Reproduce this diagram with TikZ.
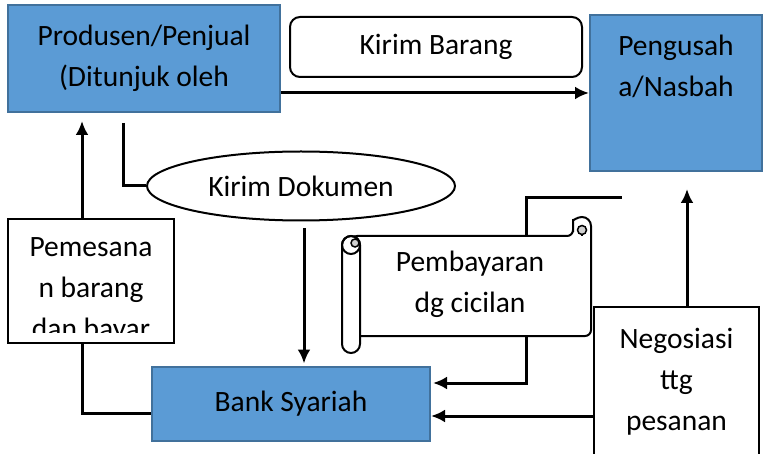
\documentclass[tikz,border=0pt]{standalone}
\usepackage{fontspec}
\setmainfont{Carlito}
\usetikzlibrary{shapes.geometric,arrows.meta}
\definecolor{kotakbiru}{HTML}{5B9BD5}
\definecolor{garisbiru}{HTML}{41719C}
\definecolor{gulung}{HTML}{D0D0D0}
\tikzset{
  biru/.style={draw=garisbiru,fill=kotakbiru,line width=2pt,inner sep=0pt},
  putih/.style={draw,fill=white,line width=2pt,inner sep=0pt},
  teks/.style={align=center,font=\fontsize{29.5}{41}\selectfont},
  garis/.style={line width=3pt},
  panah/.style={line width=3pt,->},
}
\begin{document}
\begin{tikzpicture}[x=1pt,y=-1pt,>={Latex[length=14pt,width=13pt]}]
			      \useasboundingbox (0,0) rectangle (763,454);
			      % kotak
			      \node (prod) [biru,teks,minimum width=272pt,minimum height=107pt] at (144,58.5){Produsen/Penjual\\(Ditunjuk oleh};
			      \node (barang) [putih,rounded corners=10pt,teks,minimum width=292pt,minimum height=60pt] at (436,47){Kirim Barang};
			      \node (nasbah) [biru,minimum width=172pt,minimum height=156pt] at (676,93){};
			      \node (nasbahteks) [teks] at (676,66){Pengusah\\a/Nasbah};
			      \node (ell) [putih,ellipse,teks,minimum width=308pt,minimum height=69pt] at (301,186){Kirim Dokumen};
			      \node (pem) [putih,minimum width=166pt,minimum height=124pt] at (91,281){};
			      \begin{scope}
			      \clip (10,221) rectangle (172,332);
			      \node (pemteks) [teks] at (91,290){Pemesana\\n barang\\dan bayar};
			      \end{scope}
			      \node (bank) [biru,teks,minimum width=278pt,minimum height=74pt] at (291,404){Bank Syariah};
			      \node (nego) [putih,teks,minimum width=165pt,minimum height=150pt] at (676.5,382){Negosiasi\\ttg\\pesanan};
			      % gulungan
			      \draw[line width=2pt,fill=white,rounded corners=6pt] (351,236) -- (573,236) -- (573,226)
			        [sharp corners] arc[start angle=180,end angle=0,radius=9pt]
			        [rounded corners=6pt] -- (591,336) -- (351,336) -- cycle;
			      \draw[line width=1.5pt,fill=gulung] (582,230) circle (4.5pt);
			      \draw[line width=2pt] (582,234.5) -- (582,236);
			      \draw[line width=2pt,fill=white,rounded corners=9pt] (342,236) rectangle (360,353);
			      \draw[line width=2pt] (351,245) circle (9pt);
			      \draw[line width=1.5pt,fill=gulung] (355,243) circle (4pt);
			      \node (bayar) [teks] at (470,284){Pembayaran\\dg cicilan};
			      \coordinate (bayaratas) at (526,236);
			      \coordinate (bayarbawah) at (526,336);
			      \coordinate (ujung) at (622,198);
			      % garis
			      \draw[panah] (prod.east |- nasbah.west) -- (nasbah.west);
			      \draw[garis] ([xshift=116pt,yshift=-10pt]prod.south west) |- (ell.west);
			      \draw[panah] ([xshift=-9pt]pem.north) -- ++(0,-97);
			      \draw[garis] ([xshift=-9pt]pem.south) |- ([yshift=-9pt]bank.west);
			      \draw[panah] ([xshift=3pt,yshift=-7pt]ell.south) -- ++(0,135);
			      \draw[garis] (bayaratas) |- (ujung);
			      \draw[panah] (bayarbawah) |- ([xshift=2pt,yshift=21pt]bank.east);
			      \draw[panah] ([yshift=-34pt]nego.west) -- ++(-162,0);
			      \draw[panah] ([xshift=10.5pt]nego.north) -- ++(0,-117);
		      \end{tikzpicture}
\end{document}
